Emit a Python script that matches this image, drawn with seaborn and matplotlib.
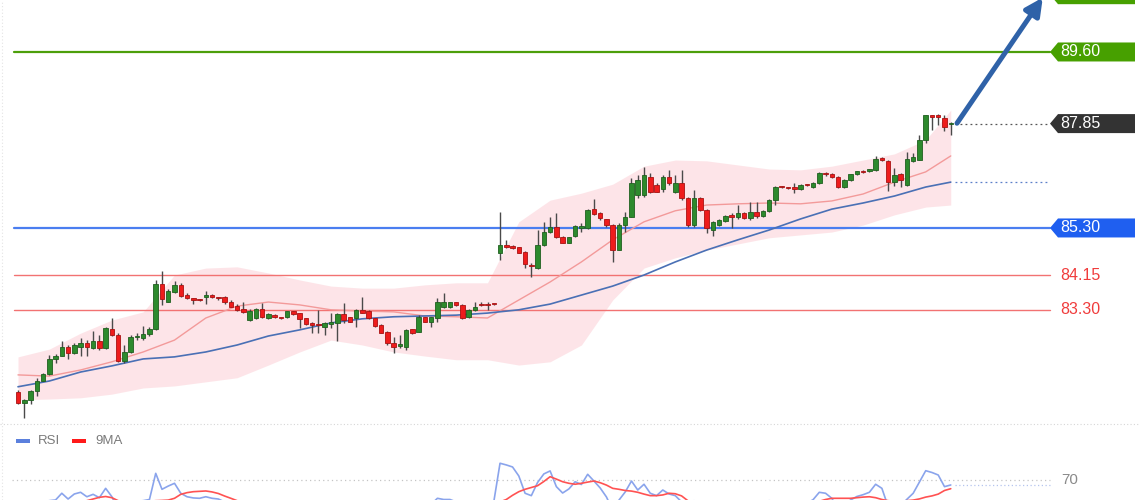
import numpy as np
import pandas as pd
import matplotlib
matplotlib.use("Agg")
import matplotlib.pyplot as plt
from matplotlib.patches import Polygon, Rectangle
from matplotlib.lines import Line2D
from matplotlib.transforms import blended_transform_factory
import seaborn as sns

# ---------------- data ----------------
opens = [81.30, 81.03, 81.10, 81.32, 81.57, 81.72, 82.10, 82.18, 82.39, 82.25,
         82.39, 82.49, 82.37, 82.54, 82.36, 82.83, 82.69, 82.05, 82.28, 82.63,
         82.60, 82.71, 82.83, 83.93, 83.50, 83.74, 83.91, 83.66, 83.57, 83.54,
         83.61, 83.66, 83.59, 83.61, 83.50, 83.39, 83.31, 83.05, 83.09, 83.31,
         83.09, 83.18, 83.10, 83.12, 83.26, 83.22, 83.09, 82.99, 82.93, 82.89,
         82.95, 82.99, 83.20, 83.12, 83.09, 83.30, 83.28, 83.09, 82.93, 82.77,
         82.50, 82.42, 82.40, 82.83, 82.77, 83.12, 83.01, 83.09, 83.36, 83.36,
         83.48, 83.42, 83.12, 83.30, 83.42, 83.42, 83.44, 84.68, 84.88, 84.86,
         84.83, 84.72, 84.38, 84.32, 84.88, 85.21, 85.33, 85.09, 84.94, 85.10,
         85.29, 85.29, 85.76, 85.66, 85.51, 85.37, 84.76, 85.37, 85.58, 86.11,
         86.11, 86.55, 86.35, 86.25, 86.55, 86.18, 86.40, 86.03, 85.37, 86.03,
         85.74, 85.25, 85.37, 85.47, 85.59, 85.57, 85.67, 85.55, 85.69, 85.59,
         85.72, 85.98, 86.30, 86.29, 86.29, 86.25, 86.35, 86.30, 86.40, 86.62,
         86.62, 86.55, 86.30, 86.47, 86.62, 86.68, 86.68, 86.72, 86.98, 86.94,
         86.43, 86.62, 86.35, 86.94, 86.96, 87.45, 88.04, 88.04, 87.98, 87.84]
highs = [81.34, 81.12, 81.34, 81.63, 81.76, 82.20, 82.22, 82.54, 82.44, 82.49,
         82.60, 82.56, 82.79, 82.69, 82.89, 83.09, 82.73, 82.44, 82.69, 82.73,
         82.91, 82.89, 84.03, 84.26, 83.80, 84.01, 83.95, 83.70, 83.58, 83.56,
         83.76, 83.69, 83.61, 83.64, 83.54, 83.44, 83.50, 83.31, 83.35, 83.46,
         83.22, 83.20, 83.11, 83.27, 83.28, 83.23, 83.11, 83.00, 83.30, 83.00,
         83.22, 83.22, 83.46, 83.13, 83.31, 83.61, 83.30, 83.11, 82.95, 82.78,
         82.64, 82.69, 82.83, 82.84, 83.17, 83.13, 83.13, 83.58, 83.70, 83.49,
         83.49, 83.44, 83.31, 83.50, 83.49, 83.48, 83.45, 85.70, 85.01, 84.88,
         84.84, 84.74, 84.45, 85.25, 85.45, 85.58, 85.66, 85.10, 85.09, 85.37,
         85.41, 85.76, 86.00, 85.70, 85.53, 85.39, 85.41, 85.70, 86.51, 86.60,
         86.80, 86.64, 86.40, 86.60, 86.72, 86.60, 86.72, 86.06, 86.23, 86.06,
         85.76, 85.47, 85.52, 85.62, 85.67, 85.86, 85.69, 85.94, 85.94, 85.74,
         86.01, 86.33, 86.33, 86.31, 86.40, 86.37, 86.37, 86.42, 86.67, 86.66,
         86.64, 86.56, 86.50, 86.63, 86.69, 86.72, 86.74, 87.06, 87.03, 86.96,
         86.76, 86.64, 87.16, 87.12, 87.57, 88.06, 88.06, 88.09, 88.06, 87.90]
lows = [81.00, 80.65, 81.00, 81.19, 81.55, 81.71, 82.00, 82.16, 82.09, 82.22,
        82.16, 82.17, 82.34, 82.32, 82.34, 82.66, 82.03, 82.00, 82.24, 82.56,
        82.56, 82.66, 82.81, 83.42, 83.48, 83.70, 83.62, 83.56, 83.44, 83.52,
        83.44, 83.59, 83.55, 83.44, 83.36, 83.27, 83.23, 83.03, 83.08, 83.09,
        83.08, 83.10, 83.08, 83.10, 83.18, 82.86, 82.93, 82.73, 82.74, 82.69,
        82.85, 82.55, 82.97, 83.00, 82.89, 83.22, 83.08, 82.89, 82.73, 82.44,
        82.25, 82.36, 82.32, 82.71, 82.75, 83.00, 82.89, 83.01, 83.34, 83.35,
        83.40, 83.08, 83.10, 83.28, 83.39, 83.30, 83.42, 84.52, 84.80, 84.79,
        84.68, 84.32, 84.11, 84.29, 84.86, 85.17, 85.05, 84.93, 84.93, 85.09,
        85.21, 85.28, 85.62, 85.50, 85.33, 84.48, 84.75, 85.21, 85.56, 86.03,
        86.06, 86.15, 86.17, 86.18, 86.35, 86.15, 85.98, 85.32, 85.32, 85.72,
        85.18, 85.10, 85.35, 85.45, 85.30, 85.52, 85.52, 85.50, 85.55, 85.57,
        85.69, 85.86, 86.28, 86.25, 86.15, 86.23, 86.33, 86.28, 86.37, 86.57,
        86.53, 86.28, 86.28, 86.45, 86.60, 86.64, 86.67, 86.69, 86.94, 86.21,
        86.33, 86.29, 86.33, 86.92, 86.95, 87.37, 87.69, 87.82, 87.68, 87.57]
closes = [81.03, 81.10, 81.32, 81.57, 81.72, 82.10, 82.18, 82.39, 82.24, 82.45,
          82.48, 82.39, 82.54, 82.37, 82.85, 82.69, 82.05, 82.28, 82.64, 82.66,
          82.71, 82.83, 83.93, 83.56, 83.77, 83.91, 83.64, 83.58, 83.55, 83.53,
          83.66, 83.61, 83.58, 83.49, 83.38, 83.30, 83.25, 83.28, 83.31, 83.12,
          83.20, 83.12, 83.09, 83.26, 83.20, 83.07, 82.95, 82.93, 82.92, 82.97,
          83.01, 83.20, 83.05, 83.01, 83.30, 83.23, 83.09, 82.91, 82.74, 82.50,
          82.40, 82.47, 82.81, 82.74, 83.13, 83.01, 83.12, 83.50, 83.50, 83.48,
          83.42, 83.09, 83.30, 83.38, 83.41, 83.41, 83.43, 84.88, 84.84, 84.80,
          84.70, 84.42, 84.36, 84.88, 85.21, 85.33, 85.07, 84.94, 85.07, 85.35,
          85.35, 85.74, 85.64, 85.54, 85.37, 84.76, 85.37, 85.58, 86.40, 86.47,
          86.60, 86.19, 86.19, 86.55, 86.40, 86.40, 86.03, 85.37, 86.03, 85.74,
          85.30, 85.45, 85.50, 85.59, 85.58, 85.67, 85.55, 85.69, 85.59, 85.72,
          85.98, 86.30, 86.29, 86.28, 86.25, 86.35, 86.34, 86.40, 86.64, 86.61,
          86.55, 86.30, 86.47, 86.62, 86.68, 86.67, 86.73, 86.98, 86.97, 86.43,
          86.60, 86.47, 86.98, 87.03, 87.45, 88.06, 88.02, 88.02, 87.77, 87.85]

# indicator readings (candle index -> value)
ind_idx = [0, 5, 10, 15, 20, 25, 30, 35, 40, 45, 50, 55, 60, 65, 70, 75, 80, 85, 90,
           95, 100, 105, 110, 115, 120, 125, 130, 135, 140, 145, 149]
ma_slow = [81.42, 81.56, 81.78, 81.93, 82.10, 82.15, 82.27, 82.44, 82.66, 82.81,
           82.98, 83.08, 83.13, 83.15, 83.17, 83.22, 83.30, 83.44, 83.66,
           83.88, 84.15, 84.47, 84.76, 85.01, 85.25, 85.52, 85.76, 85.91, 86.08, 86.30, 86.42]
ma_mid = [81.71, 81.68, 81.83, 82.03, 82.27, 82.56, 83.10, 83.39, 83.49, 83.42,
          83.30, 83.27, 83.25, 83.15, 83.13, 83.10, 83.54, 83.98, 84.47,
          85.01, 85.45, 85.72, 85.86, 85.89, 85.91, 85.89, 85.96, 86.13, 86.42, 86.67, 87.06]
band_up = [82.15, 82.34, 82.73, 83.05, 83.25, 84.15, 84.32, 84.35, 84.20, 84.03,
           83.88, 83.83, 83.83, 83.91, 83.96, 83.96, 85.45, 85.98, 86.15,
           86.37, 86.81, 86.96, 86.94, 86.84, 86.74, 86.72, 86.81, 86.96, 87.11, 87.45, 88.18]
band_lo = [81.10, 81.12, 81.15, 81.24, 81.39, 81.44, 81.54, 81.64, 81.95, 82.27,
           82.56, 82.44, 82.27, 82.17, 82.08, 82.08, 81.95, 82.03, 82.44,
           83.54, 84.32, 84.57, 84.76, 84.91, 85.06, 85.13, 85.20, 85.37, 85.62, 85.81, 85.86]

rsi = [35, 38, 45, 50, 52, 53, 53.6, 59.2, 54.4, 58.6,
       60.0, 56.3, 58.3, 55.5, 63.3, 56.3, 45, 48, 52, 52.5,
       53, 54, 75.8, 62.5, 65.2, 67.5, 59.2, 56.3, 55.3, 55,
       56.3, 55, 54.4, 52, 50, 48, 46, 48, 50, 46,
       48, 47, 46, 49, 48, 45, 43, 42, 42, 43,
       44, 47, 45, 44, 48, 47, 44, 41, 38, 35,
       34, 40, 46, 45, 50, 48, 50, 55, 54, 54,
       52, 45, 48, 50, 51, 51, 52, 84.2, 82.8, 81.1,
       73.6, 59.2, 57.2, 68.2, 75.3, 77.8, 64.7, 59.4, 62.8, 68.8,
       66.5, 75, 69.4, 63.6, 56.1, 45, 53.5, 60.3, 69.4, 61.9,
       66.7, 59.2, 57.2, 61.9, 58.6, 57.2, 52, 42, 53, 48,
       40, 44, 46, 48, 48, 50, 48, 51, 49, 52,
       53, 52, 51, 50, 49, 51, 51, 53.8, 60, 59.2,
       55, 46, 50, 53.6, 56.5, 58, 60, 66.7, 63.3, 48,
       51, 49, 54.2, 59.2, 68.6, 78, 76.5, 74.4, 64.7, 66.1]
rsi_ma9 = [45, 45, 45.5, 46, 47, 48, 49, 50, 51, 51.5,
           52, 53, 54.4, 55.8, 56.5, 55.5, 53, 52, 51.5, 51.5,
           52, 52.5, 53, 53.2, 53.5, 55, 58.3, 59.7, 60.5, 60.8,
           61.1, 60.3, 59, 56.9, 55, 53, 51, 50, 49, 48.5,
           48, 47.5, 47, 47, 47, 46.5, 46, 45.5, 45, 44.5,
           44, 44, 44, 44, 44.5, 44.5, 44.5, 44, 43, 42,
           41, 41, 41.5, 42, 43, 44, 45, 46.5, 48, 49.5,
           50, 50, 50.5, 51, 51, 50.5, 50.5, 52, 54, 57.5,
           60.5, 62.5, 64, 65.5, 69, 73, 71, 68.8, 67.5, 66.7,
           67.5, 68.5, 69.4, 68, 66, 63.3, 62.5, 61.5, 61, 60,
           58.5, 57.2, 57.2, 57.8, 59.2, 58.8, 57, 53, 51, 50,
           49, 48, 47, 47, 46.5, 46.5, 47, 47.5, 48, 48.5,
           49, 49.5, 50, 50, 50.5, 51, 51, 51.5, 52.5, 54,
           55, 55, 55, 55, 55.5, 56, 56.3, 55.5, 54, 53,
           52.5, 52.5, 53, 53.5, 54.5, 56, 57, 58.5, 61.5, 63]

levels = [91.00, 89.60, 87.85, 85.30, 84.15, 83.30]
level_labels = ["", "89.60", "87.85", "85.30", "84.15", "83.30"]
rsi_level = 70

# ---------------- style ----------------
sns.set_theme(style="white")
plt.rcParams["font.family"] = ["Liberation Sans", "DejaVu Sans"]

W, H = 1140, 500
fig = plt.figure(figsize=(W / 100, H / 100), dpi=100)
fig.patch.set_facecolor("white")

ax = fig.add_axes([0, 76 / H, 1, 424 / H])
ax_r = fig.add_axes([0, 0, 1, 75 / H])
for a in (ax, ax_r):
    a.set_facecolor("white")
    for s in a.spines.values():
        s.set_visible(False)
    a.set_xticks([])
    a.set_yticks([])

xmin, xmax = -2.875, 179.23
ax.set_xlim(xmin, xmax)
ax.set_ylim(80.51, 90.87)
ax_r.set_xlim(xmin, xmax)
ax_r.set_ylim(53.58, 116.08)

n = len(closes)
idx = np.arange(n)
df = pd.DataFrame({"i": idx, "open": opens, "high": highs, "low": lows,
                   "close": closes, "rsi": rsi, "ma9": rsi_ma9})
ind = pd.DataFrame({"i": ind_idx, "slow": ma_slow, "mid": ma_mid,
                    "up": band_up, "lo": band_lo})

# Bollinger band shading
ax.fill_between(ind["i"], ind["lo"], ind["up"], color="#fde2e6", alpha=0.9,
                linewidth=0, zorder=1)
sns.lineplot(data=ind, x="i", y="mid", ax=ax, color="#f39a9a", lw=1.0,
             sort=False, zorder=2, legend=False)
sns.lineplot(data=ind, x="i", y="slow", ax=ax, color="#4a70b5", lw=1.2,
             sort=False, zorder=2, legend=False)

# horizontal levels
L = 14 / W
R = 1050 / W
ax.axhline(levels[1], xmin=L, xmax=R, color="#4c9f0a", lw=1.6, zorder=1.5)
ax.axhline(levels[3], xmin=L, xmax=R, color="#4a7ef0", lw=1.6, zorder=1.5)
ax.axhline(levels[4], xmin=L, xmax=R, color="#f27272", lw=1.0, zorder=1.5)
ax.axhline(levels[5], xmin=L, xmax=R, color="#f27272", lw=1.0, zorder=1.5)
ext0 = 955 / W
ax.axhline(levels[2], xmin=ext0, xmax=R, color="#555555", lw=0.9,
           ls=(0, (1.5, 2.5)), zorder=1.5)
ax.axhline(ma_slow[-1], xmin=ext0, xmax=R, color="#5b7fc8", lw=0.9,
           ls=(0, (1.5, 2.5)), zorder=1.5)

# candles
up = df["close"] >= df["open"]
ax.vlines(df["i"], df["low"], df["high"], color="#4a4a4a", lw=1.0, zorder=3)
body_lo = np.minimum(df["open"], df["close"])
body_h = np.maximum(np.abs(df["close"] - df["open"]), 0.03)
ax.bar(df["i"][up], body_h[up], bottom=body_lo[up], width=0.72,
       color="#2d8a2d", edgecolor="#1f5f1f", lw=0.6, zorder=4)
ax.bar(df["i"][~up], body_h[~up], bottom=body_lo[~up], width=0.72,
       color="#ee1c1c", edgecolor="#a81212", lw=0.6, zorder=4)

# arrow
ax.annotate("", xy=(163.7, 90.93), xytext=(150.0, 87.86),
            arrowprops=dict(arrowstyle="-|>", color="#2f62a8", lw=3.6,
                            mutation_scale=26, shrinkA=0, shrinkB=0),
            annotation_clip=False, zorder=6)

# price labels
bt = blended_transform_factory(ax.transAxes, ax.transData)
hh = 9.5 * (90.87 - 80.51) / 424
tip, sh, rt = 1050 / W, 1058 / W, 1135 / W
boxed = {0: "#47a000", 1: "#47a000", 2: "#333333", 3: "#1f5ff0"}
for k, (lv, lab) in enumerate(zip(levels, level_labels)):
    if k in boxed:
        poly = Polygon([(tip, lv), (sh, lv + hh), (rt, lv + hh), (rt, lv - hh), (sh, lv - hh)],
                       closed=True, transform=bt, facecolor=boxed[k], edgecolor="none",
                       clip_on=False, zorder=7)
        ax.add_patch(poly)
        if lab:
            ax.text(1060 / W, lv, lab, transform=bt, color="white", fontsize=11.5,
                    va="center", ha="left", zorder=8, clip_on=False)
    else:
        ax.text(1060 / W, lv, lab, transform=bt, color="#f03c3c", fontsize=11.5,
                va="center", ha="left", zorder=8, clip_on=False)

# separator between panels
fig.add_artist(Line2D([0, 1], [76.5 / H, 76.5 / H], transform=fig.transFigure,
                      color="#d6d6d6", lw=0.8, ls=(0, (1, 2))))
fig.add_artist(Line2D([1.5 / W, 1.5 / W], [0, 1], transform=fig.transFigure,
                      color="#e4e4e4", lw=0.8, ls=(0, (1, 2))))

# RSI panel
ax_r.axhline(rsi_level, xmin=12 / W, xmax=R, color="#c4c4c4", lw=0.9,
             ls=(0, (1, 2.5)))
ax_r.axhline(rsi[-1], xmin=ext0, xmax=R, color="#b5c4ee", lw=0.9,
             ls=(0, (1, 2)))
sns.lineplot(data=df, x="i", y="rsi", ax=ax_r, color="#8aa4ec", lw=1.2,
             sort=False, legend=False)
sns.lineplot(data=df, x="i", y="ma9", ax=ax_r, color="#ff5252", lw=1.2,
             sort=False, legend=False)
ax_r.text(1061 / W, rsi_level, "70",
          transform=blended_transform_factory(ax_r.transAxes, ax_r.transData),
          color="#8a8a8a", fontsize=11, va="center", ha="left")

# RSI legend
ly = (H - 441) / 75
ax_r.add_patch(Rectangle((16 / W, ly - 0.027), 14 / W, 0.054, transform=ax_r.transAxes,
                         facecolor="#5b80dd", edgecolor="none"))
ax_r.text(38 / W, ly, "RSI", transform=ax_r.transAxes, color="#7a7a7a",
          fontsize=9.5, va="center", ha="left")
ax_r.add_patch(Rectangle((72 / W, ly - 0.027), 14 / W, 0.054, transform=ax_r.transAxes,
                         facecolor="#ff1a1a", edgecolor="none"))
ax_r.text(95 / W, ly, "9MA", transform=ax_r.transAxes, color="#7a7a7a",
          fontsize=9.5, va="center", ha="left")

for a in (ax, ax_r):
    a.set_xlabel("")
    a.set_ylabel("")

fig.savefig("out.png", dpi=100)
